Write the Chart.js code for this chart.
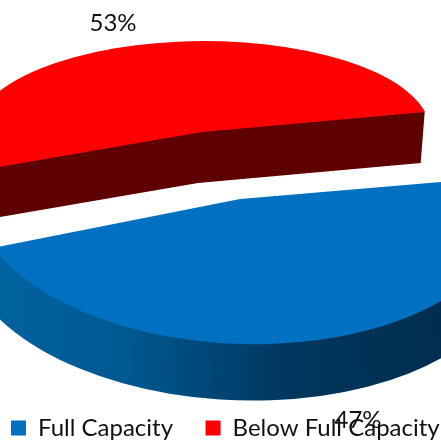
<!DOCTYPE html>
<html>
<head>
<meta charset="utf-8">
<script src="https://cdn.jsdelivr.net/npm/chart.js@4"></script>
<style>
  html, body { margin: 0; padding: 0; background: #fff; }
  #box { width: 441px; height: 445px; }
</style>
</head>
<body>
<div id="box"><canvas id="plot"></canvas></div>
<script>
const categories = ['Full Capacity', 'Below Full Capacity'];
const shares = [47, 53];
const topColors = ['#0070C0', '#FF0000'];

// how each exploded slice is laid down on the tilted plane (px on the page)
const slicePlanes = [
  { apex: [240, 199], u: [268, 8], v: [0, 145], drop: [-2, 52], grow: 1.03 },
  { apex: [202, 132], u: [228, -1], v: [0, 91], drop: [-4, 51], grow: 1 }
];
const sideStops = [
  [[0, '#00639f'], [0.3, '#005890'], [0.65, '#00375f'], [1, '#002e4f']],
  [[0, '#5f0000'], [1, '#5f0000']]
];
const labelSpots = [[358, 420], [113, 23]];

const ctx = document.getElementById('plot');

function setPlane(c, arc, p, k, grow) {
  const r = arc.outerRadius;
  const ax = p.apex[0] + p.drop[0] * k;
  const ay = p.apex[1] + p.drop[1] * k;
  const a = p.u[0] * grow / r, b = p.u[1] * grow / r;
  const cc = p.v[0] * grow / r, d = p.v[1] * grow / r;
  c.setTransform(a, b, cc, d, ax - a * arc.x - cc * arc.y, ay - b * arc.x - d * arc.y);
}

const tiltedPie = {
  id: 'tiltedPie',
  beforeDatasetsDraw(chart) {
    const c = chart.ctx;
    const arcs = chart.getDatasetMeta(0).data;
    arcs.forEach((arc, i) => {
      const p = slicePlanes[i];
      const r = arc.outerRadius;
      const g = c.createLinearGradient(arc.x - p.apex[0] / p.u[0] * r, 0, arc.x + (441 - p.apex[0]) / p.u[0] * r, 0);
      sideStops[i].forEach(s => g.addColorStop(s[0], s[1]));
      const top = arc.options;
      arc.options = Object.assign({}, top, { backgroundColor: g });
      const steps = Math.ceil(p.drop[1]);
      for (let n = steps; n >= 1; n--) {
        const k = n / steps;
        c.save();
        setPlane(c, arc, p, k, 1 + (p.grow - 1) * k);
        arc.draw(c);
        c.restore();
      }
      arc.options = top;
      c.save();
      setPlane(c, arc, p, 0, 1);
      arc.draw(c);
      c.restore();
    });
    return false;
  },
  afterDraw(chart) {
    const c = chart.ctx;
    c.save();
    c.font = '24px Lato';
    c.fillStyle = '#111';
    c.textAlign = 'center';
    c.textBaseline = 'middle';
    shares.forEach((v, i) => c.fillText(v + '%', labelSpots[i][0], labelSpots[i][1]));
    c.restore();
  }
};

new Chart(ctx, {
  type: 'pie',
  data: {
    labels: categories,
    datasets: [{ data: shares, backgroundColor: topColors, borderWidth: 0 }]
  },
  plugins: [tiltedPie],
  options: {
    responsive: true,
    maintainAspectRatio: false,
    animation: false,
    events: [],
    rotation: 78,
    layout: { padding: { bottom: -5, left: -21.5, right: -200 } },
    plugins: {
      tooltip: { enabled: false },
      legend: {
        position: 'bottom',
        align: 'start',
        labels: {
          boxWidth: 15,
          boxHeight: 15,
          padding: 32.5,
          color: '#111',
          font: { family: 'Lato', size: 24 }
        }
      }
    }
  }
});
</script>
</body>
</html>
